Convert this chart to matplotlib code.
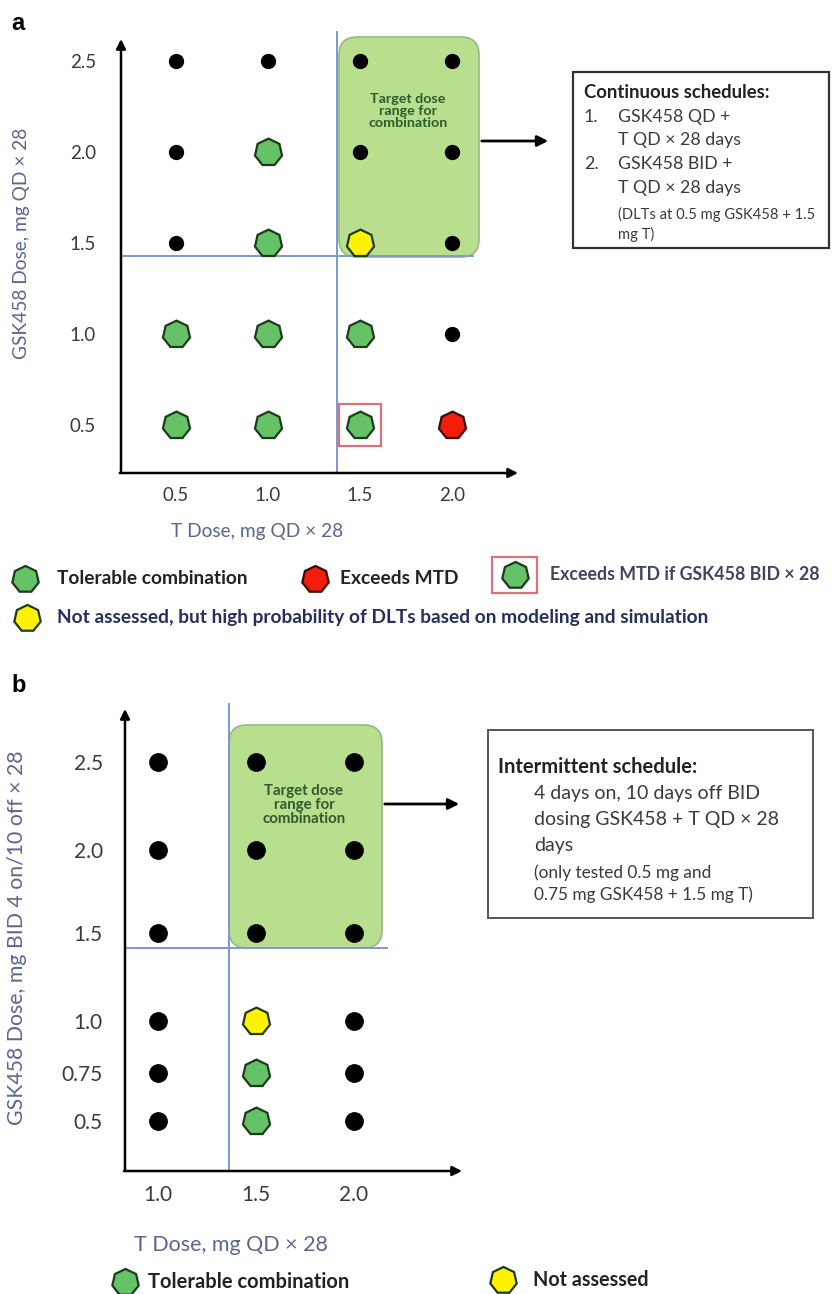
import numpy as np
import matplotlib
matplotlib.use("Agg")
import matplotlib.pyplot as plt
from matplotlib.patches import FancyBboxPatch, Rectangle

plt.rcParams['font.family'] = ['Lato', 'DejaVu Sans']

# ---- data -------------------------------------------------------------
# status codes: N = not tested (black dot), T = tolerable, Y = not assessed,
# R = exceeds MTD
a_t_dose = [0.5, 1.0, 1.5, 2.0]
a_g_dose = [2.5, 2.0, 1.5, 1.0, 0.5]
a_status = [
    "NNNN",
    "NTNN",
    "NTYN",
    "TTTN",
    "TTTR",
]
a_bid_flag = (1.5, 0.5)          # exceeds MTD if GSK458 BID x 28
a_ticks_x = ["0.5", "1.0", "1.5", "2.0"]
a_ticks_y = ["2.5", "2.0", "1.5", "1.0", "0.5"]

b_t_dose = [1.0, 1.5, 2.0]
b_g_dose = [2.5, 2.0, 1.5, 1.0, 0.75, 0.5]
b_status = [
    "NNN",
    "NNN",
    "NNN",
    "NYN",
    "NTN",
    "NTN",
]
b_ticks_x = ["1.0", "1.5", "2.0"]
b_ticks_y = ["2.5", "2.0", "1.5", "1.0", "0.75", "0.5"]

# uneven spacing of the GSK458 rows in panel b
b_scale_dose = [0.0, 0.5, 0.75, 1.0, 1.5, 2.0, 2.5, 3.0]
b_scale_pos = [-0.55, 0.0, 0.27, 0.57, 1.07, 1.54, 2.04, 2.54]

GREEN = "#66c266"
YELLOW = "#fff200"
RED = "#f21d0a"
EDGE = "#1c3b1c"
BLUE = "#7b9ac9"
LABEL = "#5a6690"
TICK = "#3a3a3a"
BOXGREEN = "#b8df8e"

W, H = 832, 1294
fig = plt.figure(figsize=(W / 100, H / 100), dpi=100)

# overlay in pixel coordinates for annotations
ov = fig.add_axes([0, 0, 1, 1], zorder=0)
ov.set_xlim(0, W)
ov.set_ylim(H, 0)
ov.axis("off")


def panel(left, top, right, bottom, tick_size):
    ax = fig.add_axes([left / W, 1 - bottom / H, (right - left) / W, (bottom - top) / H],
                      zorder=2)
    ax.patch.set_alpha(0)
    for s in ax.spines.values():
        s.set_visible(False)
    ax.tick_params(length=0, labelsize=tick_size, labelcolor=TICK)
    kw = dict(arrowprops=dict(arrowstyle="-|>", color="black", lw=1.8, mutation_scale=14,
                              shrinkA=0, shrinkB=0), xycoords="axes fraction",
              textcoords="axes fraction", annotation_clip=False)
    ax.annotate("", xy=(0, 1), xytext=(0, 0), **kw)
    ax.annotate("", xy=(1, 0), xytext=(-0.003, 0), **kw)
    return ax


def draw_points(ax, xs, ys, status, dot_ms, hept_ms):
    colors = {"T": GREEN, "Y": YELLOW, "R": RED}
    for row, y in zip(status, ys):
        for code, x in zip(row, xs):
            if code == "N":
                ax.plot(x, y, "o", color="black", ms=dot_ms, zorder=4)
            else:
                ec = "#3a0c06" if code == "R" else EDGE
                ax.plot(x, y, marker=(7, 0, 0), ms=hept_ms, mfc=colors[code], mec=ec,
                        mew=1.6, zorder=4)


def legend_marker(x, y, color, ms=19.5):
    ec = "#3a0c06" if color == RED else EDGE
    ov.plot(x, y, marker=(7, 0, 0), ms=ms, mfc=color, mec=ec, mew=1.6)


# ======================= panel a =======================
axa = panel(121, 39, 518, 473, 13.5)
axa.set_xlim(0.201, 2.359)
axa.set_ylim(0.236, 2.62)
axa.set_xticks(a_t_dose, a_ticks_x)
axa.set_yticks(a_g_dose, a_ticks_y)
axa.tick_params(axis="y", pad=18)
axa.tick_params(axis="x", pad=10)
axa.plot([1.375, 1.375], [0.236, 2.66], color=BLUE, lw=1.4, clip_on=False, zorder=1)
axa.plot([0.201, 2.114], [1.43, 1.43], color=BLUE, lw=1.4, clip_on=False, zorder=1)
draw_points(axa, a_t_dose, a_g_dose, a_status, 10, 20)
axa.plot(*a_bid_flag, "s", ms=30, mfc="none", mec="#d9737a", mew=1.6, zorder=3)
axa.set_xlabel("T Dose, mg QD × 28", fontsize=13.8, color=LABEL)
axa.xaxis.set_label_coords(0.343, -0.115)
axa.set_ylabel("GSK458 Dose, mg QD × 28", fontsize=13.8, color=LABEL)
axa.yaxis.set_label_coords(-0.229, 0.53)

ov.text(11, 23, "a", fontsize=17, fontweight="bold", family="Liberation Sans", va="center")
ov.add_patch(FancyBboxPatch((357, 55), 104, 184, boxstyle="round,pad=18",
                            fc=BOXGREEN, ec="#93b98b", lw=1.2, zorder=1))
ov.text(408, 111, "Target dose\nrange for\ncombination", ha="center", va="center",
        fontsize=10.3, fontweight="bold", color="#2f5a2c", linespacing=1.0)
ov.annotate("", xy=(551, 141), xytext=(479, 141),
            arrowprops=dict(arrowstyle="-|>", color="black", lw=2, mutation_scale=16))
ov.add_patch(Rectangle((573, 72), 256, 176, fc="white", ec="#333333", lw=1.6))
ov.text(584, 92, "Continuous schedules:", fontsize=13.3, fontweight="bold", color="#222222",
        va="center")
box_a = [("1.", "GSK458 QD +", 117), (None, "T QD × 28 days", 140),
         ("2.", "GSK458 BID +", 164), (None, "T QD × 28 days", 188)]
for num, txt, y in box_a:
    if num:
        ov.text(584, y, num, fontsize=12.8, color=TICK, va="center")
    ov.text(618, y, txt, fontsize=12.8, color=TICK, va="center")
ov.text(618, 214, "(DLTs at 0.5 mg GSK458 + 1.5", fontsize=10.6, color=TICK, va="center")
ov.text(618, 234, "mg T)", fontsize=10.6, color=TICK, va="center")

# legend a
legend_marker(25, 579, GREEN)
ov.text(57, 579, "Tolerable combination", fontsize=13.8, fontweight="bold", color="#222222",
        va="center")
legend_marker(315, 579, RED)
ov.text(340, 579, "Exceeds MTD", fontsize=13.8, fontweight="bold", color="#222222",
        va="center")
ov.add_patch(Rectangle((492, 557), 45, 36, fc="none", ec="#d9737a", lw=1.6))
legend_marker(515, 575, GREEN)
ov.text(550, 575, "Exceeds MTD if GSK458 BID × 28", fontsize=12.8, fontweight="bold",
        color="#3e4462", va="center")
legend_marker(27, 618, YELLOW)
ov.text(57, 618, "Not assessed, but high probability of DLTs based on modeling and simulation",
        fontsize=13.8, fontweight="bold", color="#26305c", va="center")

# ======================= panel b =======================
def b_fwd(v):
    return np.interp(v, b_scale_dose, b_scale_pos)


def b_inv(v):
    return np.interp(v, b_scale_pos, b_scale_dose)


axb = panel(125, 709, 462, 1171, 15)
axb.set_yscale("function", functions=(b_fwd, b_inv))
axb.set_xlim(0.832, 2.551)
axb.set_ylim(b_inv(-0.284), b_inv(2.34))
axb.set_xticks(b_t_dose, b_ticks_x)
axb.set_yticks(b_g_dose, b_ticks_y)
axb.yaxis.set_minor_locator(matplotlib.ticker.NullLocator())
axb.tick_params(axis="y", pad=16)
axb.tick_params(axis="x", pad=10)
axb.plot([1.36, 1.36], [b_inv(-0.284), b_inv(2.37)], color=BLUE, lw=1.4, clip_on=False,
         zorder=1)
axb.plot([0.832, 2.17], [1.41, 1.41], color=BLUE, lw=1.4, clip_on=False, zorder=1)
draw_points(axb, b_t_dose, b_g_dose, b_status, 12.5, 20)
axb.set_xlabel("T Dose, mg QD × 28", fontsize=15.5, color=LABEL)
axb.xaxis.set_label_coords(0.315, -0.139)
axb.set_ylabel("GSK458 Dose, mg BID 4 on/10 off × 28", fontsize=15.3, color=LABEL)
axb.yaxis.set_label_coords(-0.291, 0.504)

ov.text(11, 686, "b", fontsize=17, fontweight="bold", family="Liberation Sans", va="center")
ov.add_patch(FancyBboxPatch((247, 743), 117, 187, boxstyle="round,pad=18",
                            fc=BOXGREEN, ec="#93b98b", lw=1.2, zorder=1))
ov.text(304, 805, "Target dose\nrange for\ncombination", ha="center", va="center",
        fontsize=10.8, fontweight="bold", color="#2f5a2c", linespacing=1.0)
ov.annotate("", xy=(462, 804), xytext=(382, 804),
            arrowprops=dict(arrowstyle="-|>", color="black", lw=2, mutation_scale=16))
ov.add_patch(Rectangle((488, 730), 325, 188, fc="white", ec="#555555", lw=1.4))
ov.text(498, 767, "Intermittent schedule:", fontsize=14.5, fontweight="bold",
        color="#222222", va="center")
for txt, y in [("4 days on, 10 days off BID", 794), ("dosing GSK458 + T QD × 28", 819),
               ("days", 845)]:
    ov.text(534, y, txt, fontsize=14, color=TICK, va="center")
ov.text(534, 873, "(only tested 0.5 mg and", fontsize=12.4, color=TICK, va="center")
ov.text(534, 895, "0.75 mg GSK458 + 1.5 mg T)", fontsize=12.4, color=TICK, va="center")

# legend b
legend_marker(125, 1282, GREEN)
ov.text(148, 1282, "Tolerable combination", fontsize=14.5, fontweight="bold", color="#222222",
        va="center")
legend_marker(503, 1280, YELLOW)
ov.text(533, 1280, "Not assessed", fontsize=14.2, fontweight="bold", color="#222222",
        va="center")

fig.savefig("out.png", dpi=100)
